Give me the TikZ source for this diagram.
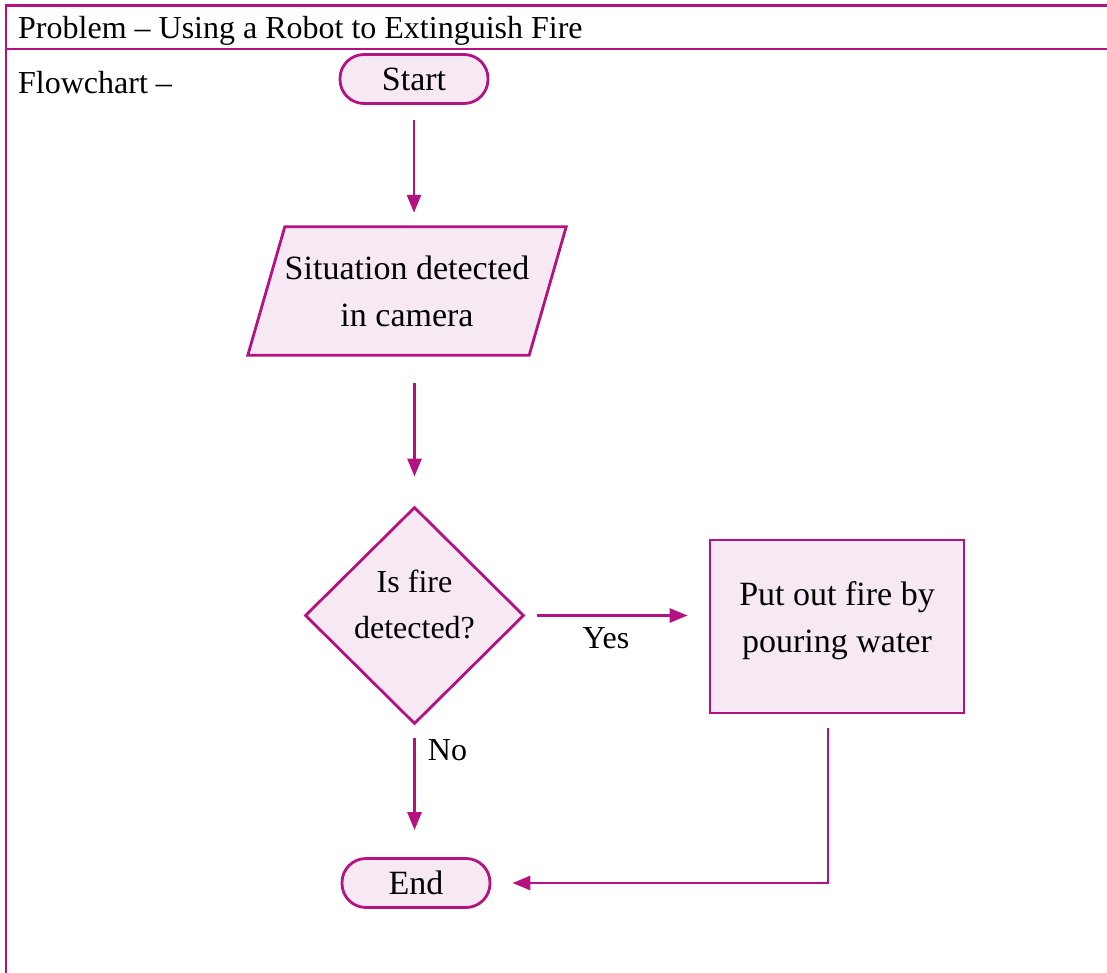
\documentclass[tikz,border=0pt]{standalone}
\usepackage{fontspec}
\setmainfont{Liberation Serif}
\usetikzlibrary{shapes.geometric,arrows.meta,backgrounds}
\definecolor{fcline}{RGB}{180,18,128}
\definecolor{fcfill}{RGB}{246,233,244}

\begin{document}
\begin{tikzpicture}[x=1pt,y=-1pt,
  every node/.style={font=\fontsize{34}{47}\selectfont},
  outline/.style={draw=fcline, fill=fcfill, line width=2.8pt},
  box/.style={outline, align=center, inner sep=0pt},
  terminal/.style={box, rounded corners=24pt, minimum width=148pt, minimum height=49pt},
  iotext/.style={align=center, inner sep=0pt, minimum width=281pt, minimum height=128pt},
  decision/.style={box, diamond, minimum width=219pt, minimum height=217pt,
    font=\fontsize{32}{46}\selectfont, text depth=22pt},
  process/.style={box, rectangle, minimum width=254pt, minimum height=173pt, text depth=19pt},
  flow/.style={draw=fcline, line width=2.8pt, -{Triangle[length=18pt,width=14pt]}},
  lbl/.style={font=\fontsize{32}{40}\selectfont, inner sep=0pt}
]
\useasboundingbox (0,0) rectangle (1107,973);

% table frame
\draw[fcline, line width=2.7pt] (5,5.6) -- (1107,5.6);
\draw[fcline, line width=1.7pt] (6,49) -- (1107,49);
\draw[fcline, line width=2.3pt] (6.2,4.3) -- (6.2,973);

\node[lbl, anchor=base west] (title) at (18,39) {Problem – Using a Robot to Extinguish Fire};
\node[lbl, anchor=base west] (fc) at (18,94) {Flowchart –};

% flowchart blocks
\node[terminal] (start) at (414,79) {Start};
\node[iotext] (sit) at (407,291) {Situation detected\\in camera};
\begin{pgfonlayer}{background}
  % input/output parallelogram behind its text
  \draw[outline, line join=miter]
    ([xshift=18.5pt]sit.north west) -- ([xshift=18.5pt]sit.north east)
    -- ([xshift=-18.5pt]sit.south east) -- ([xshift=-18.5pt]sit.south west) -- cycle;
\end{pgfonlayer}
\node[decision] (dec) at (414.5,615.5) {Is fire\\detected?};
\node[process] (put) at (837,626.5) {Put out fire by\\pouring water};
\node[terminal] (end) at (416,883) {End};

% connectors
\draw[flow, shorten <=15pt, shorten >=14pt] (start.south) -- (start.south |- sit.north);
\draw[flow, shorten <=28pt, shorten >=29pt] (dec.north |- sit.south) -- (dec.north);
\draw[flow, shorten <=12pt, shorten >=21pt] (dec.east) -- (put.west |- dec.east)
  node[lbl, pos=0.44, below=11pt] (yes) {Yes};
\draw[flow, shorten <=13pt, shorten >=27pt] (dec.south) -- (dec.south |- end.north)
  node[lbl, pos=0.19, right=12pt] (no) {No};
\draw[flow, shorten <=14pt, shorten >=21pt] ([xshift=-9pt]put.south) |- (end.east);
\end{tikzpicture}
\end{document}
